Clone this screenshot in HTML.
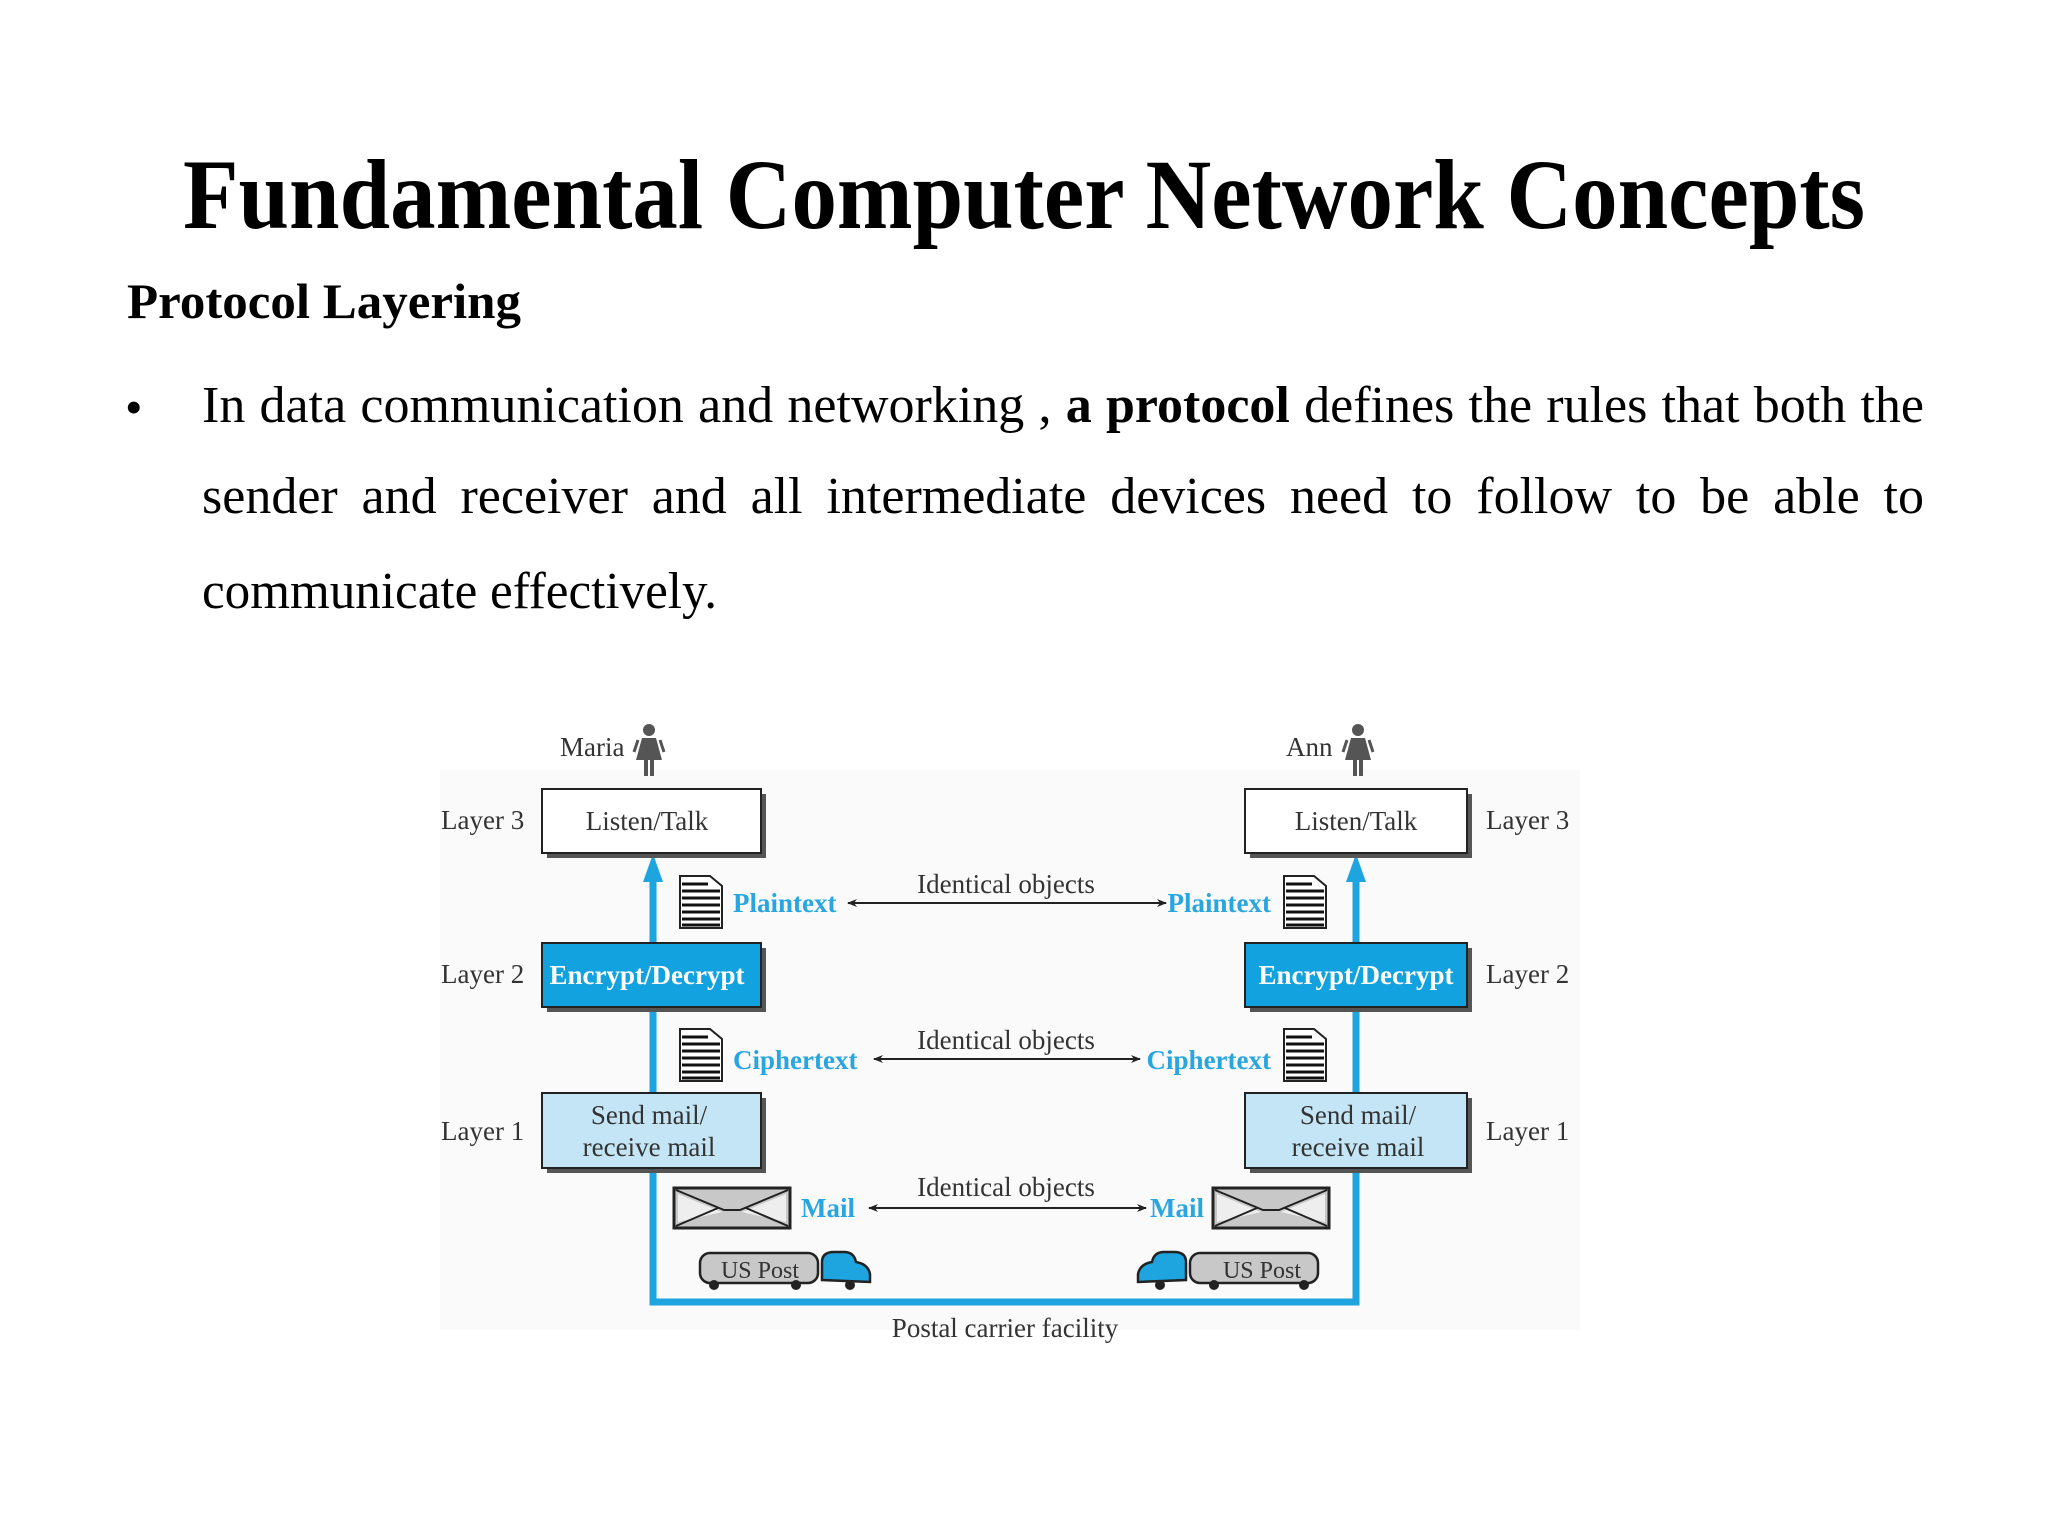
<!DOCTYPE html>
<html><head><meta charset="utf-8"><style>
html,body{margin:0;padding:0;background:#fff;}
svg{display:block;}
.ln{position:absolute;left:202px;width:1722px;font-family:"Liberation Serif",serif;font-size:52px;line-height:60px;text-align:justify;text-align-last:justify;white-space:nowrap;color:#000;}
</style></head><body>
<div style="position:relative;width:2048px;height:1536px;">
<svg width="2048" height="1536" viewBox="0 0 2048 1536" xmlns="http://www.w3.org/2000/svg" style="position:absolute;left:0;top:0">
<rect width="2048" height="1536" fill="#ffffff"/>
<g font-family="Liberation Serif, serif" fill="#000">
<text x="1024" y="228" font-size="100" font-weight="bold" text-anchor="middle" textLength="1682" lengthAdjust="spacingAndGlyphs">Fundamental Computer Network Concepts</text>
<text x="127" y="318" font-size="50" font-weight="bold" textLength="394" lengthAdjust="spacingAndGlyphs">Protocol Layering</text>
<text x="125" y="424" font-size="50">•</text>
<text x="202" y="608" font-size="52" textLength="515" lengthAdjust="spacingAndGlyphs">communicate effectively.</text>
</g>

<rect x="440" y="770" width="1140" height="560" fill="#fafafb"/>

<defs>
<marker id="ah" markerWidth="10" markerHeight="8" refX="9" refY="4" orient="auto" markerUnits="userSpaceOnUse">
<path d="M0,0 L10,4 L0,8 L3,4 Z" fill="#222"/></marker>
<g id="doc">
<path d="M0,0 H30 L42,10 V52 H0 Z" fill="#fff" stroke="#222" stroke-width="2"/>
<g stroke="#111" stroke-width="3">
<line x1="2" y1="8" x2="28" y2="8"/><line x1="2" y1="15" x2="40" y2="15"/>
<line x1="2" y1="22" x2="40" y2="22"/><line x1="2" y1="29" x2="40" y2="29"/>
<line x1="2" y1="36" x2="40" y2="36"/><line x1="2" y1="43" x2="40" y2="43"/>
<line x1="2" y1="49" x2="40" y2="49"/></g>
</g>
<g id="env">
<rect x="0" y="0" width="116" height="40" fill="#c8c8c8" stroke="#222" stroke-width="3"/>
<path d="M4,6 L48,24 L4,34 Z M112,6 L68,24 L112,34 Z" fill="#eee" stroke="none"/>
<path d="M2,2 L50,22 L66,22 L114,2 M2,38 L44,20 M114,38 L72,20" fill="none" stroke="#222" stroke-width="2"/>
</g>
<g id="person">
<circle cx="13" cy="8" r="6" fill="#555"/>
<path d="M6,16 H20 L26,38 H0 Z" fill="#555"/>
<path d="M2,18 L-2,30 M24,18 L28,30" stroke="#555" stroke-width="3"/>
<rect x="8" y="38" width="4" height="16" fill="#555"/><rect x="14" y="38" width="4" height="16" fill="#555"/>
</g>
</defs>

<g font-family="Liberation Serif, serif" font-size="27" fill="#333">
<path d="M653,870 V1302 H1356 V870" fill="none" stroke="#1ea4df" stroke-width="7"/>
<path d="M643,882 L653,854 L663,882 Z" fill="#1ea4df"/>
<path d="M1346,882 L1356,854 L1366,882 Z" fill="#1ea4df"/>

<g stroke="#222" stroke-width="2">
<rect x="547" y="794" width="219" height="64" fill="#555" stroke="none"/>
<rect x="542" y="789" width="219" height="64" fill="#fff"/>
<rect x="1250" y="794" width="222" height="64" fill="#555" stroke="none"/>
<rect x="1245" y="789" width="222" height="64" fill="#fff"/>
<rect x="547" y="948" width="219" height="64" fill="#555" stroke="none"/>
<rect x="542" y="943" width="219" height="64" fill="#12a2df"/>
<rect x="1250" y="948" width="222" height="64" fill="#555" stroke="none"/>
<rect x="1245" y="943" width="222" height="64" fill="#12a2df"/>
<rect x="547" y="1098" width="219" height="75" fill="#555" stroke="none"/>
<rect x="542" y="1093" width="219" height="75" fill="#c4e5f5"/>
<rect x="1250" y="1098" width="222" height="75" fill="#555" stroke="none"/>
<rect x="1245" y="1093" width="222" height="75" fill="#c4e5f5"/>
</g>
<g text-anchor="middle">
<text x="647" y="830">Listen/Talk</text>
<text x="1356" y="830">Listen/Talk</text>
<text x="647" y="984" fill="#fff" font-weight="bold">Encrypt/Decrypt</text>
<text x="1356" y="984" fill="#fff" font-weight="bold">Encrypt/Decrypt</text>
<text x="649" y="1124">Send mail/</text>
<text x="649" y="1156">receive mail</text>
<text x="1358" y="1124">Send mail/</text>
<text x="1358" y="1156">receive mail</text>
<text x="1006" y="893">Identical objects</text>
<text x="1006" y="1049">Identical objects</text>
<text x="1006" y="1196">Identical objects</text>
<text x="1005" y="1337">Postal carrier facility</text>
</g>
<text x="441" y="829">Layer 3</text>
<text x="441" y="983">Layer 2</text>
<text x="441" y="1140">Layer 1</text>
<text x="1486" y="829">Layer 3</text>
<text x="1486" y="983">Layer 2</text>
<text x="1486" y="1140">Layer 1</text>
<text x="560" y="756">Maria</text>
<text x="1286" y="756">Ann</text>
<use href="#person" x="636" y="722"/>
<use href="#person" x="1345" y="722"/>

<use href="#doc" x="680" y="876"/>
<use href="#doc" x="1284" y="876"/>
<use href="#doc" x="680" y="1029"/>
<use href="#doc" x="1284" y="1029"/>
<g fill="#29a6e0" font-weight="bold">
<text x="733" y="912">Plaintext</text>
<text x="1271" y="912" text-anchor="end">Plaintext</text>
<text x="733" y="1069">Ciphertext</text>
<text x="1271" y="1069" text-anchor="end">Ciphertext</text>
<text x="801" y="1217">Mail</text>
<text x="1204" y="1217" text-anchor="end">Mail</text>
</g>
<g stroke="#222" stroke-width="2">
<line x1="1006" y1="903" x2="848" y2="903" marker-end="url(#ah)"/>
<line x1="1006" y1="903" x2="1166" y2="903" marker-end="url(#ah)"/>
<line x1="1006" y1="1059" x2="874" y2="1059" marker-end="url(#ah)"/>
<line x1="1006" y1="1059" x2="1140" y2="1059" marker-end="url(#ah)"/>
<line x1="1006" y1="1208" x2="869" y2="1208" marker-end="url(#ah)"/>
<line x1="1006" y1="1208" x2="1146" y2="1208" marker-end="url(#ah)"/>
</g>
<use href="#env" x="674" y="1188"/>
<use href="#env" x="1213" y="1188"/>

<g stroke="#222" stroke-width="2.5">
<rect x="700" y="1253" width="118" height="30" rx="10" fill="#c8c8c8"/>
<path d="M822,1280 V1262 q0,-10 12,-10 h10 q10,0 12,10 q12,2 14,12 v8 Z" fill="#1ea4df"/>
<rect x="1190" y="1253" width="128" height="30" rx="10" fill="#c8c8c8"/>
<path d="M1186,1280 V1262 q0,-10 -12,-10 h-10 q-10,0 -12,10 q-12,2 -14,12 v8 Z" fill="#1ea4df"/>
</g>
<g fill="#222">
<circle cx="714" cy="1285" r="5"/><circle cx="796" cy="1285" r="5"/><circle cx="850" cy="1285" r="5"/>
<circle cx="1160" cy="1285" r="5"/><circle cx="1214" cy="1285" r="5"/><circle cx="1304" cy="1285" r="5"/>
</g>
<text x="760" y="1278" text-anchor="middle" font-size="24">US Post</text>
<text x="1262" y="1278" text-anchor="middle" font-size="24">US Post</text>
</g>
</svg>
<div class="ln" style="top:376px">In data communication and networking , <b>a protocol</b> defines the rules that both the</div>
<div class="ln" style="top:467px">sender and receiver and all intermediate devices need to follow to be able to</div>
</div>
</body></html>
